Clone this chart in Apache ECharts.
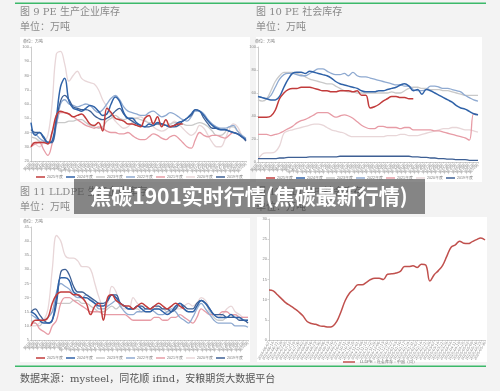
<!DOCTYPE html>
<html><head><meta charset="utf-8">
<script src="https://cdn.jsdelivr.net/npm/echarts@6/dist/echarts.min.js"></script>
<style>html,body{margin:0;padding:0;background:#f3f3f3}#c{width:500px;height:391px}</style>
</head><body><div id="c"></div>
<script>
// ---------- categories / tick labels ----------
const weeks = [];
for (let i = 1; i <= 52; i++) weeks.push('第' + i + '周');
const socDates = [];
(function(){ let d = new Date(Date.UTC(2024,5,7)); for (let i=0;i<52;i++){ const s=d.toISOString().slice(0,10); socDates.push(s); d=new Date(d.getTime()+7*86400000);} })();

const yearNames = ['2025年度','2024年度','2023年度','2022年度','2021年度','2020年度','2019年度'];
const yearColors = ['#c23b3b','#2f62a8','#c9c9c9','#8faad1','#e79ca6','#e8d6d8','#3d5f94'];
const llSocName = 'LLDPE：社会库存：中国（周）';

// ---------- 图9 PE 生产企业库存 ----------
const peProd2025 = [30,33,33,33,32,40,52,55,54,53,51,52,53,50,46,45,47,41,57,54,50,49,48,46,46,45,44,50,52,46,51,44,49,44,45,46,46];
const peProd2024 = [47,38,40,37,33,34,50,72,78,62,57,56,55,57,59,58,55,52,53,60,65,62,54,50,50,47,45,44,46,45,47,46,45,44,45,47,48,50,53,56,55,52,48,45,43,42,42,41,40,39,37,35];
const peProd2023 = [37,36,34,33,33,40,47,47,47,48,48,49,49,47,45,44,43,44,48,50,52,50,49,50,50,50,49,48,47,47,46,45,45,46,47,47,46,45,45,46,47,46,44,41,38,38,40,44,44,41,38,35];
const peProd2022 = [40,39,36,34,33,33,45,60,63,60,59,58,59,60,59,56,54,56,60,64,66,63,58,55,54,53,52,52,54,55,53,51,52,54,53,51,49,48,51,55,55,53,49,46,44,43,43,44,45,41,38,36];
const peProd2021 = [30,32,33,28,24,32,45,54,54,53,51,49,47,45,44,43,44,43,41,40,40,39,39,40,38,36,35,35,37,39,38,36,35,37,38,36,33,30,29,35,40,38,37,38,38,37,36,38,40,39,37,35];
const peProd2020 = [33,32,30,33,38,60,95,97,88,76,80,83,78,76,75,74,70,63,58,52,48,45,43,44,47,50,51,49,46,44,42,41,42,45,48,46,43,40,38,40,45,43,38,33,30,30,35,42,46,44,38,34];
const peProd2019 = [42,40,40,36,33,33,48,62,66,63,58,57,56,56,55,52,50,49,50,52,55,57,53,50,48,46,45,44,44,45,46,46,45,44,44,45,48,50,52,56,55,50,46,43,43,42,42,41,40,39,37,34];

// ---------- 图10 PE 社会库存 ----------
const peSoc2025 = [39,39,39,40,45,55,60,63,64,64,65,65,65,64,63,62,62,61,61,62,62,62,61,62,58,58,47,48,50,53,55,57,57,56,56,55,55];
const peSoc2024 = [57,56,55,54,54,57,65,72,77,78,78,77,79,78,77,76,75,73,70,68,67,66,65,64,62,61,61,61,62,62,63,64,65,67,68,66,62,63,59,63,62,60,58,56,54,52,49,47,46,44,42,41];
const peSoc2023 = [54,53,55,62,70,75,78,78,78,77,76,74,72,71,70,69,68,68,66,64,62,61,61,60,60,60,60,60,60,60,60,61,60,60,62,64,65,65,64,64,63,63,63,62,62,61,60,59,58,58,58,58];
const peSoc2022 = [57,56,55,58,65,72,76,77,77,76,75,75,77,79,81,81,79,77,76,76,77,75,78,75,74,74,73,72,71,70,69,68,67,67,66,66,63,62,62,63,66,66,65,64,64,63,62,61,58,56,54,53];
const peSoc2021 = [24,24,24,23,24,25,27,29,31,34,36,37,39,41,43,43,43,41,39,40,41,40,38,35,32,30,29,29,31,31,30,30,30,29,30,30,28,28,28,28,28,27,27,26,25,24,23,22,21,19,42,41];
const peSoc2020 = [2,7,8,8,9,14,25,27,28,29,30,31,32,33,33,32,30,28,27,26,25,23,22,22,22,22,22,22,22,22,23,23,23,24,24,23,23,23,24,25,26,27,28,29,29,30,30,29,28,28,27,26];
const peSoc2019 = [3,3,3,3,3,3.5,3.5,4,4,4,4,4,4.5,4.5,4.5,4.5,4.5,4.5,4.5,5,5,5,5,5,5,5,5,5,5,5,5,5,5,5,5,5,4.5,4.5,4,4,3.5,3.5,3,3,2.5,2.5,2,2,2,1.5,1.5,1.5];

// ---------- 图11 LLDPE 生产企业库存 ----------
const llProd2025 = [10,12,12,12,13,18,21,22,22,22,21,21,20,18,14,17,18,12,20,21,19,18,17,17,16,17,18,17,16,17,18,17,16,17,18,17,16];
const llProd2024 = [15,14,12,11,11,12,20,27,27,26,22,21,20,20,19,18,17,17,19,21,20,18,17,16,16,17,16,15,15,16,16,15,14,15,17,18,16,15,15,17,19,18,16,14,13,13,13,14,13,13,12,12];
const llProd2023 = [12,11,10,12,13,15,18,18,18,18,19,19,18,18,17,16,15,15,16,17,16,17,17,16,16,16,15,15,15,16,16,16,15,15,16,17,16,15,15,17,19,18,15,13,12,12,13,13,14,13,12,12];
const llProd2022 = [14,13,12,12,13,15,22,25,24,23,21,20,20,21,20,18,16,16,17,18,19,17,15,14,14,15,15,16,16,15,14,14,15,16,15,13,12,11,13,16,18,16,14,12,11,11,11,11,10,10,10,9.5];
const llProd2021 = [11,11,9,8,7,10,12,18,20,20,19,18,17,16,15,15,15,14,14,14,14,14,14,13,12,12,12,12,12,13,13,12,12,13,13,14,13,12,11,13,16,15,14,14,14,15,15,14,14,13,13,13];
const llProd2020 = [10,10,11,12,16,30,42,40,35,34,34,33,31,31,30,25,20,17,18,24,22,17,16,16,20,18,17,17,16,16,17,16,16,17,16,16,17,18,17,18,20,19,16,14,13,14,16,17,15,14,13,13];
const llProd2019 = [15,16,14,12,11,12,18,29,30,28,24,22,22,21,20,19,18,18,19,21,21,18,17,16,16,17,17,16,16,17,17,16,16,15,16,18,17,16,16,18,19,18,16,14,14,14,13,13,13,12,12,11];

// ---------- 图12 LLDPE 社会库存 ----------
const llSocial = [12.4,12.2,11.2,10.2,9.2,8.5,7.8,7.0,6.0,4.6,4.1,3.9,3.5,3.4,3.2,3.4,4.6,7.0,9.8,11.6,12.6,13.7,13.7,14.3,15.0,15.3,15.3,15.0,16.3,16.4,16.6,17.0,18.2,18.2,18.4,18.0,18.8,18.6,14.6,16.2,17.2,18.5,20.8,23.0,23.6,24.5,24.0,23.9,24.4,24.9,25.3,24.8];

const prodPE = [peProd2025,peProd2024,peProd2023,peProd2022,peProd2021,peProd2020,peProd2019];
const socPE  = [peSoc2025,peSoc2024,peSoc2023,peSoc2022,peSoc2021,peSoc2020,peSoc2019];
const prodLL = [llProd2025,llProd2024,llProd2023,llProd2022,llProd2021,llProd2020,llProd2019];

const lbl = {fontSize:4, color:'#888', fontFamily:'Liberation Sans'};
function xAx(gi, cats, rot){
  return {type:'category', gridIndex:gi, data:cats, boundaryGap:false,
    axisLine:{lineStyle:{color:'#aaa', width:0.6}}, axisTick:{show:true, length:1.5, lineStyle:{color:'#aaa',width:0.5}},
    axisLabel:Object.assign({interval:0, rotate:rot, margin:2}, lbl)};
}
function yAx(gi, mn, mx, iv){
  return {type:'value', gridIndex:gi, min:mn, max:mx, interval:iv,
    axisLine:{show:true, lineStyle:{color:'#aaa', width:0.6}}, axisTick:{show:true, length:1.5, lineStyle:{color:'#aaa',width:0.5}},
    splitLine:{show:false}, axisLabel:Object.assign({margin:2}, lbl)};
}
const series = [];
const drawOrder = [5,2,4,3,6,1,0];
[prodPE, socPE, prodLL].forEach((set, gi) => {
  drawOrder.forEach((k, j) => {
    series.push({type:'line', name:yearNames[k], xAxisIndex:gi, yAxisIndex:gi, data:set[k],
      smooth:0.4, symbol:'none', color:yearColors[k],
      lineStyle:{width:(k<2?1.5:1.3), color:yearColors[k]}, z: 2 + j});
  });
});
series.push({type:'line', name:llSocName, xAxisIndex:3, yAxisIndex:3, data:llSocial, smooth:0.4, symbol:'none',
  color:'#c0504d', lineStyle:{width:1.5, color:'#c0504d'}});

function legendAt(left, top){
  return {data:yearNames, left:left, top:top, icon:'rect', itemWidth:9, itemHeight:1.5, itemGap:3,
    textStyle:{fontSize:3.6, color:'#777', padding:[0,0,0,-3]}, padding:0, selectedMode:false};
}

const titleStyle = {fill:'#8a8a8a', fontSize:10, fontFamily:'DejaVu Serif, Noto Sans CJK SC'};
function txt(x,y,s,st){ return {type:'text', x:x, y:y, z:1, style:Object.assign({text:s, textVerticalAlign:'middle'}, st||titleStyle)}; }
const tiny = {fill:'#777', fontSize:4, fontFamily:'Noto Sans CJK SC'};

const option = {
  backgroundColor:'#f3f3f3',
  animation:false,
  grid:[
    {left:31, top:47, width:215, height:114},
    {left:258, top:47, width:220, height:115},
    {left:31, top:227, width:217, height:113},
    {left:269, top:219, width:216, height:121}
  ],
  xAxis:[xAx(0,weeks,45), xAx(1,weeks,45), xAx(2,weeks,45), xAx(3,socDates,60)],
  yAxis:[yAx(0,20,100,10), yAx(1,0,100,20), yAx(2,5,45,5), yAx(3,0,30,5)],
  legend:[legendAt(36,175), legendAt(266,176), legendAt(36,356),
    {data:[llSocName], left:343, top:360, icon:'rect', itemWidth:12, itemHeight:1.5, padding:0,
     textStyle:{fontSize:4, color:'#666'}, selectedMode:false}],
  graphic:[
    {type:'rect', shape:{x:20,y:37,width:230,height:145}, style:{fill:'#fff'}, z:-10},
    {type:'rect', shape:{x:256,y:37,width:226,height:145}, style:{fill:'#fff'}, z:-10},
    {type:'rect', shape:{x:20,y:218,width:230,height:144}, style:{fill:'#fff'}, z:-10},
    {type:'rect', shape:{x:257,y:217,width:230,height:145}, style:{fill:'#fff'}, z:-10},
    {type:'rect', shape:{x:15,y:2.5,width:471,height:1.5}, style:{fill:'#3cb96a'}, z:1},
    {type:'rect', shape:{x:15,y:365.5,width:471,height:1.5}, style:{fill:'#3cb96a'}, z:1},
    txt(20,12,'图 9 PE 生产企业库存'),
    txt(20,27,'单位：万吨'),
    txt(256,12,'图 10 PE 社会库存'),
    txt(256,27,'单位：万吨'),
    txt(20,192,'图 11 LLDPE 生产企业库存'),
    txt(20,207,'单位：万吨'),
    txt(256,192,'图 12 LLDPE 社会库存'),
    txt(256,207,'单位：万吨'),
    txt(23,41,'单位：万吨', tiny),
    txt(255,41,'单位：万吨', tiny),
    txt(23,221,'单位：万吨', tiny),
    txt(20,379,'数据来源：mysteel，同花顺 ifind，安粮期货大数据平台', {fill:'#555', fontSize:10, fontFamily:'DejaVu Serif, Noto Sans CJK SC'}),
    {type:'rect', shape:{x:74,y:179,width:351,height:35}, style:{fill:'rgba(60,60,60,0.6)'}, z:100},
    {type:'text', x:249, y:196, z:101, style:{text:'焦碳1901实时行情(焦碳最新行情)', fill:'#fff', fontSize:21, fontWeight:'bold',
      fontFamily:'Noto Sans CJK SC', textAlign:'center', textVerticalAlign:'middle'}}
  ],
  series:series
};
const chart = echarts.init(document.getElementById('c'), null, {renderer:'canvas'});
chart.setOption(option);
</script></body></html>
